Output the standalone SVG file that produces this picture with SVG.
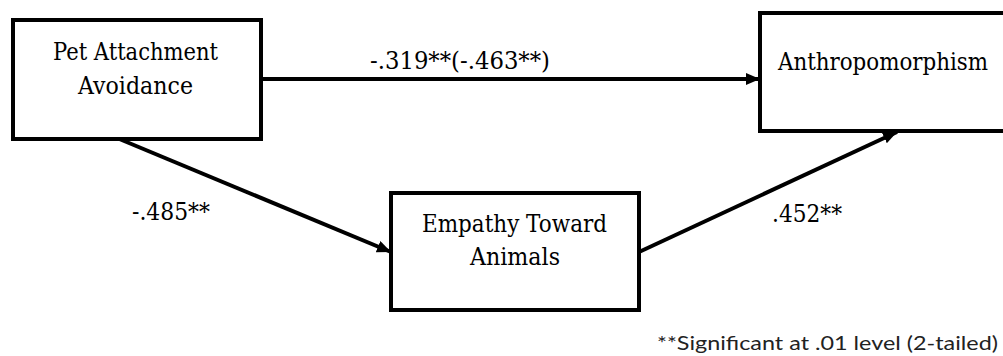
<svg xmlns="http://www.w3.org/2000/svg" width="1003" height="356" viewBox="0 0 1003 356">
  <style>
    .box { fill: #ffffff; stroke: #000000; stroke-width: 4; }
    .lbl { font-family: "DejaVu Serif", "Liberation Serif", serif; font-size: 24px; fill: #000000; }
    .edge { stroke: #000000; stroke-width: 4; fill: none; }
    .note { font-family: Lato, "Open Sans", sans-serif; font-size: 20px; fill: #222222; }
  </style>
  <defs>
    <marker id="arrow" markerUnits="userSpaceOnUse" markerWidth="16" markerHeight="14" refX="14" refY="6" orient="auto">
      <path d="M0,0 L14,6 L0,12 Z" fill="#000000"/>
    </marker>
  </defs>
  <rect width="1003" height="356" fill="#ffffff"/>

  <g id="connectors">
    <line class="edge" x1="261" y1="79" x2="760" y2="79" marker-end="url(#arrow)"/>
    <line class="edge" x1="117" y1="138" x2="391" y2="252" marker-end="url(#arrow)"/>
    <line class="edge" x1="639" y1="252" x2="897" y2="132" marker-end="url(#arrow)"/>
    <text class="lbl" x="370" y="69" textLength="180" lengthAdjust="spacingAndGlyphs">-.319**(-.463**)</text>
    <text class="lbl" x="132" y="220" textLength="78" lengthAdjust="spacingAndGlyphs">-.485**</text>
    <text class="lbl" x="772" y="222" textLength="70" lengthAdjust="spacingAndGlyphs">.452**</text>
  </g>

  <g id="node-pet">
    <rect class="box" x="13" y="20" width="248" height="119"/>
    <text class="lbl" x="53" y="60" textLength="165" lengthAdjust="spacingAndGlyphs">Pet Attachment</text>
    <text class="lbl" x="78" y="94" textLength="115" lengthAdjust="spacingAndGlyphs">Avoidance</text>
  </g>

  <g id="node-anthro">
    <rect class="box" x="760" y="13" width="260" height="118"/>
    <text class="lbl" x="778" y="70" textLength="210" lengthAdjust="spacingAndGlyphs">Anthropomorphism</text>
  </g>

  <g id="node-empathy">
    <rect class="box" x="391" y="193" width="248" height="117"/>
    <text class="lbl" x="422" y="232" textLength="185" lengthAdjust="spacingAndGlyphs">Empathy Toward</text>
    <text class="lbl" x="470" y="265" textLength="90" lengthAdjust="spacingAndGlyphs">Animals</text>
  </g>

  <text class="note" x="657" y="350" textLength="341" lengthAdjust="spacingAndGlyphs">**Significant at .01 level (2-tailed)</text>
</svg>
